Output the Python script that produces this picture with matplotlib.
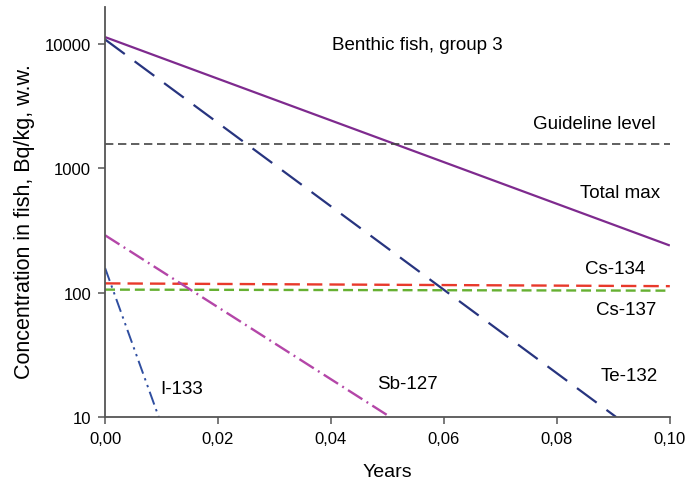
import matplotlib.pyplot as plt
from matplotlib.ticker import FixedLocator, NullLocator, FuncFormatter

plt.rcParams['font.family'] = ['Liberation Sans', 'DejaVu Sans']

# endpoints of each curve (years, Bq/kg) - straight lines on log scale
total_x = [0.0, 0.10]
total_y = [11400, 240]
te132_x = [0.0, 0.0905]
te132_y = [10900, 10]
sb127_x = [0.0, 0.0505]
sb127_y = [290, 10]
i133_x = [0.0, 0.0095]
i133_y = [158, 10]
cs134_x = [0.0, 0.10]
cs134_y = [119, 113]
cs137_x = [0.0, 0.10]
cs137_y = [106, 104]
guideline_x = [0.0, 0.10]
guideline_y = [1560, 1560]

x_ticks = [0.0, 0.02, 0.04, 0.06, 0.08, 0.10]
y_ticks = [10, 100, 1000, 10000]

fig = plt.figure(figsize=(6.87, 4.85), dpi=100)
ax = fig.add_axes([0.153, 0.138, 0.822, 0.846])

ax.plot(total_x, total_y, color='#7e2a8e', lw=1.6, solid_capstyle='butt')
ax.plot(guideline_x, guideline_y, color='#444444', lw=1.2, dashes=(5, 2.8))
ax.plot(te132_x, te132_y, color='#27347f', lw=1.6, dashes=(11, 5.5))
ax.plot(cs134_x, cs134_y, color='#e8392b', lw=1.7, dashes=(6.5, 3))
ax.plot(cs137_x, cs137_y, color='#66b032', lw=1.7, dashes=(4.2, 2.1))
ax.plot(sb127_x, sb127_y, color='#b446a8', lw=1.7, dashes=(7.2, 2.1, 0.8, 2.1))
ax.plot(i133_x, i133_y, color='#2f4ea0', lw=1.4, dashes=(7, 2.5, 1.2, 2.5, 1.2, 2.5))

ax.set_yscale('log')
ax.set_xlim(0, 0.10)
ax.set_ylim(10, 20000)
ax.xaxis.set_major_locator(FixedLocator(x_ticks))
ax.yaxis.set_major_locator(FixedLocator(y_ticks))
ax.yaxis.set_minor_locator(NullLocator())
ax.xaxis.set_major_formatter(FuncFormatter(lambda v, p: f"{v:.2f}".replace('.', ',')))
ax.yaxis.set_major_formatter(FuncFormatter(lambda v, p: f"{int(round(v))}"))

for s in ['top', 'right']:
    ax.spines[s].set_visible(False)
for s in ['left', 'bottom']:
    ax.spines[s].set_color('#555555')
    ax.spines[s].set_linewidth(1.3)
ax.tick_params(axis='both', direction='out', length=5, width=1.1, color='#555555',
               labelsize=12, pad=5)

ax.set_xlabel('Years', fontsize=14, labelpad=12)
ax.set_ylabel('Concentration in fish, Bq/kg, w.w.', fontsize=15.5)
ax.yaxis.set_label_coords(-0.125, 0.478)

fs = 13.5
ax.text(0.0552, 10000, 'Benthic fish, group 3', ha='center', va='center', fontsize=fs)
ax.text(0.0866, 2300, 'Guideline level', ha='center', va='center', fontsize=fs)
ax.text(0.0912, 640, 'Total max', ha='center', va='center', fontsize=fs)
ax.text(0.0904, 158, 'Cs-134', ha='center', va='center', fontsize=fs)
ax.text(0.0922, 74, 'Cs-137', ha='center', va='center', fontsize=fs)
ax.text(0.0928, 21.7, 'Te-132', ha='center', va='center', fontsize=fs)
ax.text(0.0535, 18.7, 'Sb-127', ha='center', va='center', fontsize=fs)
ax.text(0.0136, 17, 'I-133', ha='center', va='center', fontsize=fs)

fig.savefig('out.png', dpi=100)
